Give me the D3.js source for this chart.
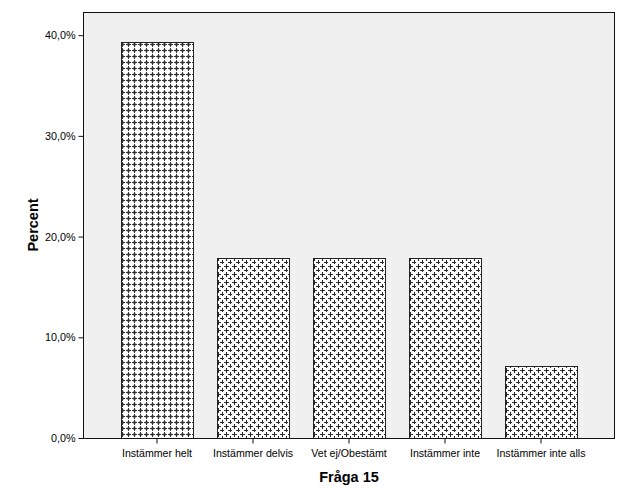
<!DOCTYPE html>
<html><head><meta charset="utf-8">
<script src="https://cdn.jsdelivr.net/npm/d3@7"></script>
<style>body{margin:0;background:#fff}svg{display:block}</style>
</head><body>
<svg id="c" width="629" height="504"></svg>
<script>
const categories = ["Instämmer helt","Instämmer delvis","Vet ej/Obestämt","Instämmer inte","Instämmer inte alls"];
const values = [39.3, 17.9, 17.9, 17.9, 7.1];
const yTicks = [0, 10, 20, 30, 40];
const xTitle = "Fråga 15";
const yTitle = "Percent";

const svg = d3.select("#c");
const L = 83, R = 615, T = 12, B = 438;

const defs = svg.append("defs");
// pattern for first bar (denser)
const p1 = defs.append("pattern").attr("id","pat1").attr("patternUnits","userSpaceOnUse")
  .attr("width",6).attr("height",6);
p1.append("rect").attr("width",6).attr("height",6).attr("fill","#fff");
p1.append("rect").attr("x",1).attr("y",1).attr("width",3).attr("height",3).attr("fill","#a8a8a8");
p1.append("rect").attr("x",0).attr("y",2).attr("width",5).attr("height",1).attr("fill","#333");
p1.append("rect").attr("x",2).attr("y",0).attr("width",1).attr("height",5).attr("fill","#333");
// pattern for others
const p2 = defs.append("pattern").attr("id","pat2").attr("patternUnits","userSpaceOnUse")
  .attr("width",8).attr("height",8);
p2.append("rect").attr("width",8).attr("height",8).attr("fill","#fff");
[[2,2],[6,6]].forEach(([cx,cy])=>{
  p2.append("rect").attr("x",cx).attr("y",cy-2).attr("width",1).attr("height",5).attr("fill","#2a2a2a");
  p2.append("rect").attr("x",cx-2).attr("y",cy).attr("width",5).attr("height",1).attr("fill","#2a2a2a");
});

const x = d3.scaleBand().domain(categories).range([L, R]).paddingInner(0.25).paddingOuter(0.396);
const y = d3.scaleLinear().domain([0, 42.3]).range([B, T]);

svg.append("rect").attr("x",L).attr("y",T).attr("width",R-L).attr("height",B-T).attr("fill","#f0f0f0");

svg.selectAll(".bar").data(values).enter().append("rect")
  .attr("x",(d,i)=>Math.round(x(categories[i]))+0.5)
  .attr("y",d=>Math.round(y(d))+0.5)
  .attr("width",Math.round(x.bandwidth()))
  .attr("height",d=>Math.round(B-y(d)))
  .attr("fill",(d,i)=> i===0 ? "url(#pat1)" : "url(#pat2)")
  .attr("stroke","#222").attr("stroke-width",1);

svg.append("rect").attr("x",L+0.5).attr("y",T+0.5).attr("width",R-L-1).attr("height",B-T)
  .attr("fill","none").attr("stroke","#111").attr("stroke-width",1);

const fmt = d => d.toFixed(1).replace(".",",") + "%";
const yAxis = svg.append("g").attr("transform",`translate(${L+0.5},0)`)
  .call(d3.axisLeft(y).tickValues(yTicks).tickFormat(fmt).tickSize(5).tickPadding(3));
yAxis.select(".domain").remove();
yAxis.selectAll("text").attr("font-family","Liberation Sans, Arial, sans-serif").attr("font-size","10.8px").attr("fill","#000");
yAxis.selectAll("line").attr("stroke","#111");

const xAxis = svg.append("g").attr("transform",`translate(0,${B+0.5})`)
  .call(d3.axisBottom(x).tickSize(5).tickPadding(6));
xAxis.select(".domain").remove();
xAxis.selectAll("text").attr("font-family","Liberation Sans, Arial, sans-serif").attr("font-size","10.6px").attr("fill","#000");
xAxis.selectAll("line").attr("stroke","#111");

svg.append("text").attr("x",349).attr("y",482).attr("text-anchor","middle")
  .attr("font-family","Liberation Sans, Arial, sans-serif").attr("font-weight","bold").attr("font-size","14.5px").text(xTitle);
svg.append("text").attr("transform","translate(38,225) rotate(-90)").attr("text-anchor","middle")
  .attr("font-family","Liberation Sans, Arial, sans-serif").attr("font-weight","bold").attr("font-size","14.5px").text(yTitle);
</script>
</body></html>
